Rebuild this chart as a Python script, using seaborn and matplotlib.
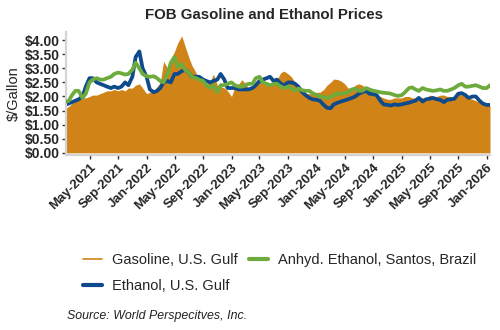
import matplotlib
matplotlib.use("Agg")
import matplotlib.pyplot as plt
import matplotlib.dates as mdates
from matplotlib.lines import Line2D
from matplotlib.ticker import FuncFormatter
import seaborn as sns
import pandas as pd
import numpy as np

# Semi-monthly observation dates (1st and 15th), Jan-15-2021 .. Jan-15-2026
dates = pd.date_range("2021-01-15", "2026-01-15", freq="SMS")

gasoline_us_gulf = [
    1.55, 1.65, 1.75, 1.85, 1.90, 1.95, 1.95, 2.00, 2.05, 2.05,
    2.10, 2.15, 2.20, 2.20, 2.25, 2.20, 2.25, 2.20, 2.30, 2.30,
    2.40, 2.45, 2.30, 2.10, 2.15, 2.20, 2.35, 2.50, 3.25, 3.00,
    3.30, 3.60, 3.90, 4.15, 3.80, 3.40, 3.10, 2.85, 2.60, 2.50,
    2.45, 2.50, 2.80, 2.40, 2.35, 2.30, 2.20, 2.00, 2.35, 2.45,
    2.60, 2.45, 2.30, 2.40, 2.50, 2.60, 2.45, 2.40, 2.40, 2.45,
    2.60, 2.85, 2.90, 2.80, 2.70, 2.50, 2.30, 2.15, 2.10, 2.10,
    2.10, 2.15, 2.15, 2.25, 2.40, 2.50, 2.62, 2.60, 2.55, 2.45,
    2.30, 2.30, 2.40, 2.45, 2.40, 2.30, 2.25, 2.20, 2.10, 2.00,
    1.95, 1.90, 1.90, 1.95, 1.95, 1.95, 2.00, 2.00, 1.95, 1.95,
    2.00, 1.95, 1.95, 2.05, 2.00, 2.00, 2.05, 2.05, 2.00, 2.00,
    2.00, 2.10, 2.05, 2.05, 1.95, 1.90, 1.85, 1.80, 1.72, 1.70,
    1.68,
]

ethanol_us_gulf = [
    1.70, 1.75, 1.80, 1.85, 1.90, 2.00, 2.35, 2.65, 2.65, 2.50,
    2.45, 2.40, 2.35, 2.30, 2.35, 2.30, 2.35, 2.50, 2.40, 2.70,
    3.40, 3.60, 3.00, 2.70, 2.25, 2.15, 2.20, 2.30, 2.50, 2.55,
    2.50, 2.80, 2.80, 2.90, 2.95, 2.85, 2.70, 2.70, 2.70, 2.60,
    2.55, 2.50, 2.55, 2.60, 2.80, 2.60, 2.30, 2.30, 2.30, 2.25,
    2.25, 2.25, 2.25, 2.30, 2.40, 2.55, 2.60, 2.65, 2.70, 2.55,
    2.60, 2.45, 2.40, 2.50, 2.50, 2.45, 2.35, 2.15, 2.05, 1.95,
    1.90, 1.88, 1.85, 1.70, 1.60, 1.58, 1.72, 1.78, 1.82, 1.86,
    1.90, 1.95, 2.00, 2.10, 2.15, 2.20, 2.10, 2.08, 2.05, 1.85,
    1.72, 1.70, 1.68, 1.72, 1.70, 1.72, 1.75, 1.78, 1.82, 1.85,
    1.95, 1.82, 1.90, 1.92, 1.95, 1.90, 1.88, 1.80, 1.88, 1.90,
    1.92, 2.10, 2.12, 2.05, 1.95, 2.00, 2.00, 1.85, 1.75, 1.70,
    1.70,
]

anhyd_ethanol_santos = [
    1.80, 1.85, 2.05, 2.20, 2.20, 1.95, 2.10, 2.50, 2.60, 2.65,
    2.60, 2.60, 2.65, 2.70, 2.80, 2.85, 2.82, 2.78, 2.80, 2.95,
    3.20, 3.00, 2.80, 2.72, 2.70, 2.72, 2.65, 2.55, 2.50, 2.80,
    3.20, 3.40, 3.05, 3.15, 2.95, 2.85, 2.70, 2.65, 2.60, 2.55,
    2.40, 2.30, 2.40, 2.15, 2.40, 2.40, 2.45, 2.50, 2.40, 2.35,
    2.35, 2.40, 2.45, 2.45, 2.65, 2.70, 2.50, 2.45, 2.40, 2.45,
    2.45, 2.35, 2.30, 2.35, 2.30, 2.20, 2.28, 2.22, 2.20, 2.20,
    2.12, 2.05, 2.00, 1.98, 1.95, 1.98, 2.05, 2.10, 2.10, 2.12,
    2.15, 2.25, 2.28, 2.20, 2.20, 2.30, 2.25, 2.20, 2.18, 2.15,
    2.13, 2.12, 2.10, 2.05, 2.02, 2.05, 2.15, 2.30, 2.32, 2.25,
    2.20, 2.30, 2.25, 2.22, 2.20, 2.22, 2.25, 2.20, 2.20, 2.25,
    2.30, 2.40, 2.45, 2.35, 2.35, 2.38, 2.40, 2.35, 2.30, 2.30,
    2.40,
]

labels = ["Gasoline, U.S. Gulf", "Anhyd. Ethanol, Santos, Brazil", "Ethanol, U.S. Gulf"]
c_gas, c_green, c_blue = "#D08418", "#6DAB3C", "#0E4A8C"

df = pd.DataFrame({
    "date": dates,
    "gas": gasoline_us_gulf,
    "eth": ethanol_us_gulf,
    "brazil": anhyd_ethanol_santos,
})

sns.set_style("white")
plt.rcParams["font.family"] = ["Liberation Sans", "DejaVu Sans"]

fig = plt.figure(figsize=(5.0, 3.3), dpi=100)
ax = fig.add_axes([0.132, 0.530, 0.848, 0.374])

ax.fill_between(df["date"], 0, df["gas"], color=c_gas, linewidth=0, zorder=1)
sns.lineplot(data=df, x="date", y="brazil", ax=ax, color=c_green, linewidth=2.7, zorder=3)
sns.lineplot(data=df, x="date", y="eth", ax=ax, color=c_blue, linewidth=2.7, zorder=2)

ax.set_xlim(pd.Timestamp("2021-01-20"), pd.Timestamp("2026-01-15"))
ax.set_ylim(-0.08, 4.3)
ax.set_yticks(np.arange(0, 4.01, 0.5))
ax.yaxis.set_major_formatter(FuncFormatter(lambda v, p: f"${v:.2f}"))
ax.xaxis.set_major_locator(mdates.MonthLocator(bymonth=[1, 5, 9]))
ax.xaxis.set_major_formatter(mdates.DateFormatter("%b-%Y"))

for s in ["top", "right"]:
    ax.spines[s].set_visible(False)
for s in ["left", "bottom"]:
    ax.spines[s].set_color("#d4d4d4")
    ax.spines[s].set_linewidth(1.6)

ax.tick_params(axis="both", which="major", length=3, width=1, color="#333333",
               pad=1.5, left=True, bottom=True)
ax.tick_params(axis="y", labelsize=10)
ax.tick_params(axis="x", labelsize=9.5)
for lab in ax.get_yticklabels():
    lab.set_fontweight("bold")
for lab in ax.get_xticklabels():
    lab.set_fontweight("bold")
    lab.set_rotation(45)
    lab.set_ha("right")
    lab.set_rotation_mode("anchor")

ax.set_xlabel("")
ax.set_ylabel("$/Gallon", fontsize=10.5, labelpad=3)
ax.grid(False)

fig.text(0.528, 0.955, "FOB Gasoline and Ethanol Prices", ha="center", va="center",
         fontsize=10.8, fontweight="bold")

handles = [
    Line2D([], [], color=c_gas, linewidth=1.2),
    Line2D([], [], color=c_blue, linewidth=3),
    Line2D([], [], color=c_green, linewidth=3),
]
fig.legend(handles, [labels[0], labels[2], labels[1]], ncol=2, frameon=False,
           loc="upper left", bbox_to_anchor=(0.166, 0.233), fontsize=10.5,
           handlelength=1.3, handletextpad=0.7, columnspacing=0.75, labelspacing=0.82,
           borderaxespad=0, borderpad=0)

fig.text(0.134, 0.042, "Source: World Perspecitves, Inc.", fontsize=8.9, style="italic",
         ha="left", va="center", color="#222222")

fig.savefig("out.png", dpi=100)
